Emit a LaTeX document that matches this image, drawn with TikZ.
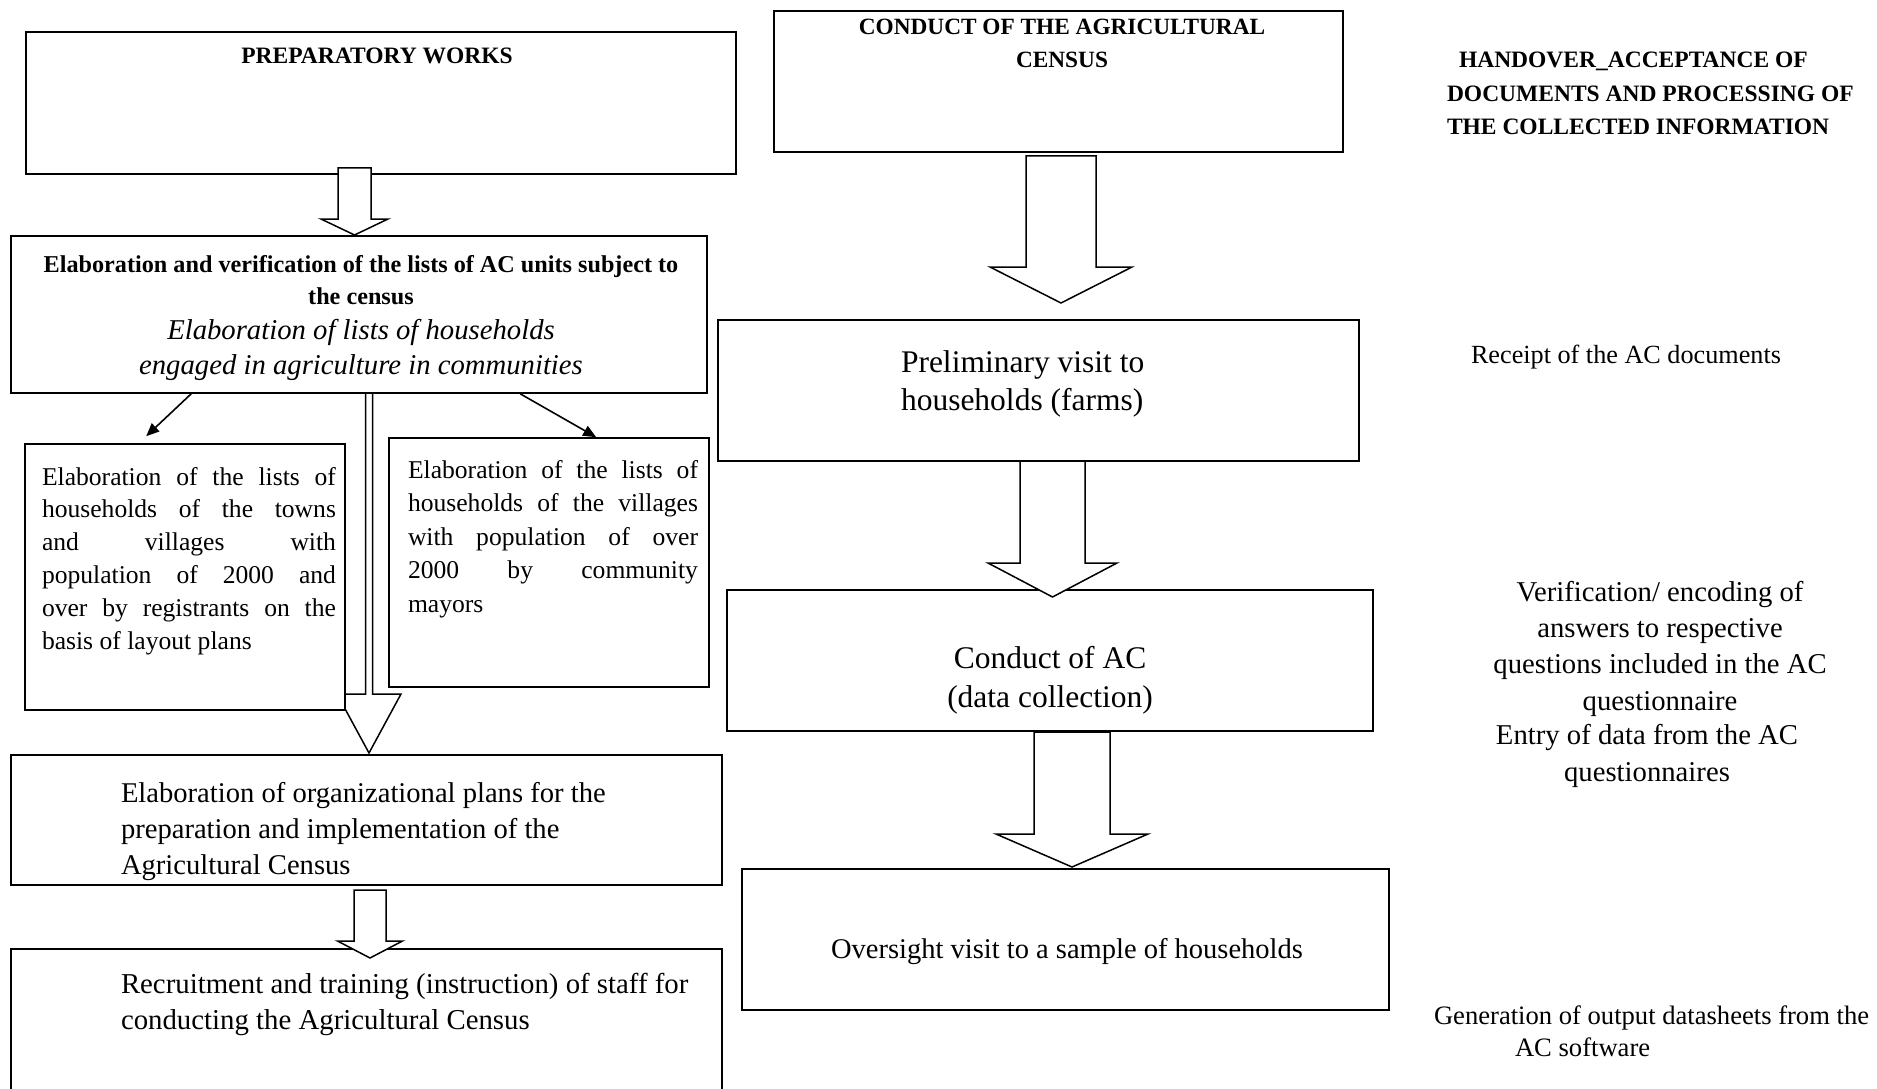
\documentclass[tikz,border=0pt]{standalone}
\usepackage{fontspec}
\setmainfont{Liberation Serif}
\usetikzlibrary{arrows.meta,calc,fit}
\tikzset{
  box/.style={draw, line width=1.6pt, fill=white, inner sep=0pt},
  harrow/.style={draw, line width=1.5pt, fill=white, line join=miter},
  sarrow/.style={draw, line width=1.6pt, -{Triangle[length=13pt,width=11pt]}},
  txt/.style={inner sep=0pt, outer sep=0pt},
}
\newcommand\jline[2]{\makebox[#1][s]{#2}}
% xc, shaft half width, y top, y head base, head half width, y tip
\newcommand\harrowpath[6]{%
  \path[harrow] (#1-#2,#3) -- (#1-#2,#4) -- (#1-#5,#4) -- (#1,#6) -- (#1+#5,#4) -- (#1+#2,#4) -- (#1+#2,#3) -- cycle;}
\begin{document}
\begin{tikzpicture}[x=1pt,y=-1pt]
\useasboundingbox (0,0) rectangle (1877,1089);
% boxes
\node[box, fit={(26,32)(736,174)}] (pw) {};
\node[box, fit={(11,236)(707,393)}] (el) {};
\node[box, fit={(11,755)(722,885)}] (op) {};
\node[box, fit={(11,949)(722,1110)}] (rc) {};
\node[box, fit={(774,11)(1343,152)}] (cd) {};
\node[box, fit={(718,320)(1359,461)}] (pv) {};
\node[box, fit={(727,590)(1373,731)}] (ca) {};
\node[box, fit={(742,869)(1389,1010)}] (ov) {};
% thin hollow arrow el -> op (partly hidden by the sub-boxes)
\harrowpath{369}{3.5}{393}{694}{32}{753}
\node[box, fit={(25,444)(345,710)}] (lb) {};
\node[box, fit={(389,438)(709,687)}] (rb) {};
% hollow arrows
\harrowpath{354.5}{16.5}{168}{219}{33.5}{235}
\harrowpath{370}{16}{890}{941}{32.5}{958}
\harrowpath{1061}{35}{156}{267}{71}{303}
\harrowpath{1052.5}{32.5}{461}{563}{64.5}{597}
\harrowpath{1072}{38}{732}{834}{76}{867}
% small arrows
\draw[sarrow] ($(el.south west)+(181,0)$) -- ($(lb.north west)+(122,-7)$);
\draw[sarrow] ($(el.south west)+(510,0)$) -- ($(rb.north west)+(208,0)$);
% texts (base anchor = baseline of the last line)
\node[txt, anchor=base, font={\fontsize{23.5pt}{33pt}\selectfont\bfseries}] (pwt) at (377,64) {PREPARATORY WORKS};
\node[txt, anchor=base, align=center, font={\fontsize{24.2pt}{32pt}\selectfont\bfseries}] (elt1) at (361,304)
  {Elaboration and verification of the lists of AC units subject to\\the census};
\node[txt, anchor=base, align=center, font={\fontsize{28.7pt}{35pt}\selectfont\itshape}] (elt2) at (361,374)
  {Elaboration of lists of households\\engaged in agriculture in communities};
\node[txt, anchor=base west, align=left, font={\fontsize{25.6pt}{32.8pt}\selectfont}] (lbt) at (42,649)
  {\jline{294pt}{Elaboration of the lists of}\\\jline{294pt}{households of the towns}\\\jline{294pt}{and villages with}\\\jline{294pt}{population of 2000 and}\\\jline{294pt}{over by registrants on the}\\basis of layout plans};
\node[txt, anchor=base west, align=left, font={\fontsize{25.6pt}{33.5pt}\selectfont}] (rbt) at (408,612)
  {\jline{290pt}{Elaboration of the lists of}\\\jline{290pt}{households of the villages}\\\jline{290pt}{with population of over}\\\jline{290pt}{2000 by community}\\mayors};
\node[txt, anchor=base west, align=left, font={\fontsize{28.6pt}{36pt}\selectfont}] (opt) at (121,874)
  {Elaboration of organizational plans for the\\preparation and implementation of the\\Agricultural Census};
\node[txt, anchor=base west, align=left, font={\fontsize{28.8pt}{36pt}\selectfont}] (rct) at (121,1029)
  {Recruitment and training (instruction) of staff for\\conducting the Agricultural Census};
\node[txt, anchor=base, align=center, font={\fontsize{23.3pt}{33pt}\selectfont\bfseries}] (cdt) at (1062,68)
  {CONDUCT OF THE AGRICULTURAL\\CENSUS};
\node[txt, anchor=base west, align=left, font={\fontsize{31.5pt}{38pt}\selectfont}] (pvt) at (901,410)
  {Preliminary visit to\\households (farms)};
\node[txt, anchor=base, align=center, font={\fontsize{31.5pt}{39pt}\selectfont}] (cat) at (1050,707)
  {Conduct of AC\\(data collection)};
\node[txt, anchor=base, font={\fontsize{28.5pt}{34pt}\selectfont}] (ovt) at (1067,958)
  {Oversight visit to a sample of households};
\node[txt, anchor=base west, align=left, font={\fontsize{23.5pt}{33.5pt}\selectfont\bfseries}] (hat) at (1447,135)
  {\hspace*{12pt}HANDOVER\_ACCEPTANCE OF\\DOCUMENTS AND PROCESSING OF\\THE COLLECTED INFORMATION};
\node[txt, anchor=base west, font={\fontsize{26.2pt}{32pt}\selectfont}] (rct2) at (1471,363)
  {Receipt of the AC documents};
\node[txt, anchor=base, align=center, font={\fontsize{28.7pt}{36.3pt}\selectfont}] (vet) at (1660,710)
  {Verification/ encoding of\\answers to respective\\questions included in the AC\\questionnaire};
\node[txt, anchor=base, align=center, font={\fontsize{28.7pt}{36.3pt}\selectfont}] (ent) at (1647,781)
  {Entry of data from the AC\\questionnaires};
\node[txt, anchor=base west, align=left, font={\fontsize{26.6pt}{32pt}\selectfont}] (gnt) at (1434,1056)
  {Generation of output datasheets from the\\\hspace*{81pt}AC software};
\end{tikzpicture}
\end{document}
